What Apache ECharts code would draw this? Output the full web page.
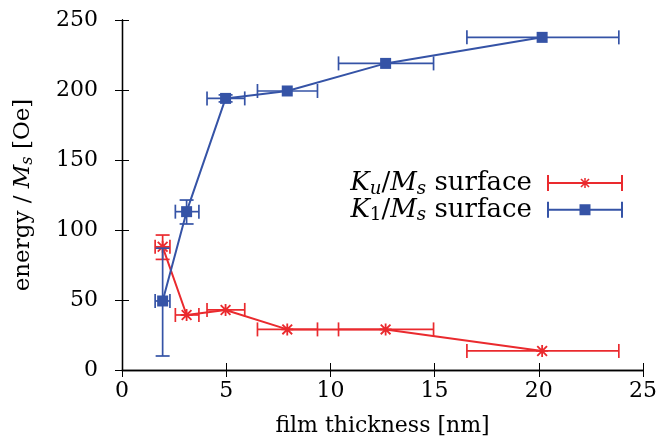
<!DOCTYPE html>
<html>
<head>
<meta charset="utf-8">
<script src="https://cdn.jsdelivr.net/npm/echarts@6/dist/echarts.min.js"></script>
<style>
  html, body { margin: 0; padding: 0; background: #fff; }
  #chart { width: 660px; height: 444px; }
</style>
</head>
<body>
<div id="chart"></div>
<script>
// film thickness (nm) with x error range
const thickness = [1.95, 3.1, 4.97, 7.93, 12.65, 20.16]
const thickLo = [1.59, 2.56, 4.08, 6.5, 10.39, 16.55]
const thickHi = [2.3, 3.69, 5.89, 9.38, 14.95, 23.84]

// Ku/Ms surface (Oe)
const kuVal = [88, 39.3, 42.9, 29, 29, 13.6]
const kuLo = [79, 39.3, 42.9, 29, 29, 13.6]
const kuHi = [96.4, 39.3, 42.9, 29, 29, 13.6]

// K1/Ms surface (Oe)
const k1Val = [49.3, 113.1, 194, 199.3, 219, 237.6]
const k1Lo = [10, 104.3, 191.5, 199.3, 219, 237.6]
const k1Hi = [87, 121.4, 196.5, 199.3, 219, 237.6]

const RED = '#ea2a2e'
const BLUE = '#3553a6'
const FONT = 'DejaVu Serif'

const starPath = 'path://M-0.75,-5h1.5v10h-1.5zM-5,-0.75h10v1.5h-10zM-3.5,-4.6L4.6,3.5L3.5,4.6L-4.6,-3.5zM3.5,-4.6L4.6,-3.5L-3.5,4.6L-4.6,3.5z'
const kuIcon = 'path://M0,0h2v16h-2zM0,7h76v2h-76zM74,0h2v16h-2zM37.25,3h1.5v10h-1.5zM33,7.25h10v1.5h-10zM34.5,3.4L42.6,11.5L41.5,12.6L33.4,4.5zM41.5,3.4L42.6,4.5L34.5,12.6L33.4,11.5z'
const k1Icon = 'path://M0,0h2v16h-2zM0,7h76v2h-76zM74,0h2v16h-2zM32.5,2.5h11v11h-11z'

const makeRich = (size) => ({
  r: { fontFamily: FONT, fontSize: size, color: '#000' },
  i: { fontFamily: FONT, fontSize: size, fontStyle: 'italic', color: '#000' },
  sub: { fontFamily: FONT, fontSize: size * 0.7, fontStyle: 'italic', color: '#000', verticalAlign: 'top', padding: [size * 0.45, 0, 0, 0] },
  subr: { fontFamily: FONT, fontSize: size * 0.7, color: '#000', verticalAlign: 'top', padding: [size * 0.45, 0, 0, 0] }
})

const pts = (xs, ys) => xs.map((x, i) => [x, ys[i]])
const errData = (ys, lo, hi) => thickness.map((x, i) => [x, ys[i], thickLo[i], thickHi[i], lo[i], hi[i]])

// error bars in x and y, with caps
function errorBars(color) {
  return function (params, api) {
    const x = api.value(0)
    const y = api.value(1)
    const c = api.coord([x, y])
    const l = api.coord([api.value(2), y])
    const r = api.coord([api.value(3), y])
    const lo = api.coord([x, api.value(4)])
    const hi = api.coord([x, api.value(5)])
    const cap = 7
    const style = { stroke: color, lineWidth: 1.7, fill: null }
    const seg = (x1, y1, x2, y2) => ({ type: 'line', shape: { x1, y1, x2, y2 }, style })
    const children = [
      seg(l[0], c[1], r[0], c[1]),
      seg(l[0], c[1] - cap, l[0], c[1] + cap),
      seg(r[0], c[1] - cap, r[0], c[1] + cap)
    ]
    if (lo[1] - hi[1] > 1) {
      children.push(seg(c[0], lo[1], c[0], hi[1]))
      children.push(seg(c[0] - cap, lo[1], c[0] + cap, lo[1]))
      children.push(seg(c[0] - cap, hi[1], c[0] + cap, hi[1]))
    }
    return { type: 'group', children }
  }
}

const axisLine = { show: true, lineStyle: { color: '#000', width: 1.3 } }
const axisTick = { show: true, inside: true, length: 7, lineStyle: { color: '#000', width: 1 } }

const chart = echarts.init(document.getElementById('chart'))

chart.setOption({
  animation: false,
  grid: { left: 122, right: 13, top: 20, bottom: 74 },
  legend: {
    orient: 'vertical',
    align: 'right',
    right: 32,
    top: 165,
    itemWidth: 76,
    itemHeight: 16,
    itemGap: -1,
    textStyle: { rich: makeRich(26), padding: [0, 10, 0, 0] },
    formatter: name => name === 'Ku'
      ? '{i|K}{sub|u}{r|/}{i|M}{sub|s}{r| surface}'
      : '{i|K}{subr|1}{r|/}{i|M}{sub|s}{r| surface}',
    data: [
      { name: 'Ku', icon: kuIcon },
      { name: 'K1', icon: k1Icon }
    ]
  },
  xAxis: [
    {
      type: 'value', min: 0, max: 25, interval: 5, position: 'bottom',
      axisLine, axisTick, splitLine: { show: false },
      axisLabel: { color: '#000', fontFamily: FONT, fontSize: 22, margin: 10 },
      name: 'film thickness [nm]', nameLocation: 'middle', nameGap: 45,
      nameTextStyle: { color: '#000', fontFamily: FONT, fontSize: 22 }
    },
    {
      type: 'value', min: 0, max: 25, interval: 5, position: 'top',
      axisLine, axisTick, splitLine: { show: false }, axisLabel: { show: false }
    }
  ],
  yAxis: [
    {
      type: 'value', min: 0, max: 250, interval: 50, position: 'left',
      axisLine, axisTick, splitLine: { show: false },
      axisLabel: { color: '#000', fontFamily: FONT, fontSize: 22, margin: 24 },
      name: '{r|energy / }{i|M}{sub|s}{r| [Oe]}', nameLocation: 'middle', nameGap: 86,
      nameTextStyle: { rich: makeRich(23) }
    },
    {
      type: 'value', min: 0, max: 250, interval: 50, position: 'right',
      axisLine, axisTick, splitLine: { show: false }, axisLabel: { show: false }
    }
  ],
  series: [
    {
      name: 'Ku-err', type: 'custom', z: 2,
      renderItem: errorBars(RED),
      encode: { x: 0, y: 1 },
      data: errData(kuVal, kuLo, kuHi)
    },
    {
      name: 'Ku', type: 'line', z: 3,
      data: pts(thickness, kuVal),
      symbol: starPath, symbolSize: 12,
      lineStyle: { color: RED, width: 2 },
      itemStyle: { color: RED }
    },
    {
      name: 'K1-err', type: 'custom', z: 4,
      renderItem: errorBars(BLUE),
      encode: { x: 0, y: 1 },
      data: errData(k1Val, k1Lo, k1Hi)
    },
    {
      name: 'K1', type: 'line', z: 5,
      data: pts(thickness, k1Val),
      symbol: 'rect', symbolSize: 11,
      lineStyle: { color: BLUE, width: 2 },
      itemStyle: { color: BLUE }
    }
  ]
})
</script>
</body>
</html>
